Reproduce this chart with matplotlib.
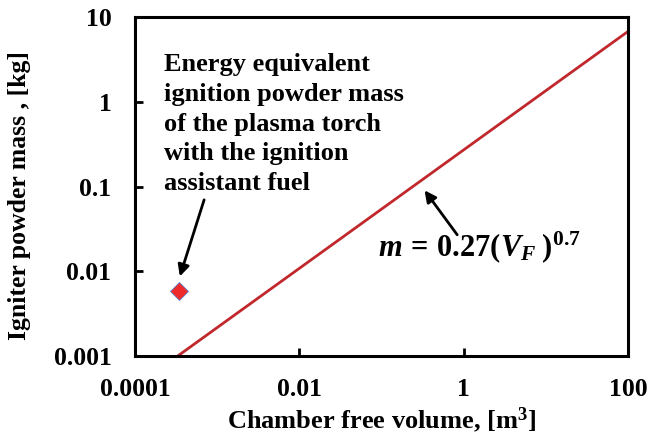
import numpy as np
import matplotlib
matplotlib.use('Agg')
import matplotlib.pyplot as plt
from matplotlib.ticker import FixedLocator, FixedFormatter, NullLocator

plt.rcParams['font.family'] = 'Liberation Serif'
plt.rcParams['font.weight'] = 'bold'
plt.rcParams['mathtext.fontset'] = 'custom'
plt.rcParams['mathtext.rm'] = 'Liberation Serif:bold'
plt.rcParams['mathtext.it'] = 'Liberation Serif:bold:italic'
plt.rcParams['mathtext.bf'] = 'Liberation Serif:bold'

# correlation line m = 0.27 V^0.7, end points
line_v = [3.3e-4, 100]
line_m = [0.001, 6.8]

# plasma torch equivalent point
torch_v = [3.4e-4]
torch_m = [0.0059]

x_ticks = [1e-4, 1e-2, 1, 100]
x_labels = ['0.0001', '0.01', '1', '100']
y_ticks = [0.001, 0.01, 0.1, 1, 10]
y_labels = ['0.001', '0.01', '0.1', '1', '10']

fig = plt.figure(figsize=(6.49, 4.38), dpi=100)
ax = fig.add_axes([0.208, 0.187, 0.760, 0.774])

ax.plot(line_v, line_m, color='#C0282D', lw=2.0)
ax.plot(torch_v, torch_m, marker='D', ms=9, color='#EE2A2A',
        markeredgecolor='#5B7FC7', markeredgewidth=0.6, ls='none')

ax.set_xscale('log')
ax.set_yscale('log')
ax.set_xlim(1e-4, 100)
ax.set_ylim(0.001, 10)
ax.xaxis.set_major_locator(FixedLocator(x_ticks))
ax.xaxis.set_major_formatter(FixedFormatter(x_labels))
ax.yaxis.set_major_locator(FixedLocator(y_ticks))
ax.yaxis.set_major_formatter(FixedFormatter(y_labels))
ax.xaxis.set_minor_locator(NullLocator())
ax.yaxis.set_minor_locator(NullLocator())
ax.tick_params(direction='in', length=6, width=2, labelsize=18.5)
ax.tick_params(axis='x', pad=16)
ax.tick_params(axis='y', pad=17)

for s in ax.spines.values():
    s.set_linewidth(2.2)

ax.set_xlabel('Chamber free volume, [m$^{3}$]', fontsize=19, fontweight='bold', labelpad=3)
ax.set_ylabel('Igniter powder mass , [kg]', fontsize=18.5, fontweight='bold')
ax.yaxis.set_label_coords(-0.21, 0.475)

ax.text(0.059, 0.893, 'Energy equivalent\nignition powder mass\nof the plasma torch\nwith the ignition\nassistant fuel',
        transform=ax.transAxes, fontsize=19, fontweight='bold', va='top', ha='left',
        linespacing=1.37)

ax.annotate('', xy=(3.43e-4, 0.0081), xytext=(7.1e-4, 0.075),
            arrowprops=dict(arrowstyle='-|>', color='black', lw=2, mutation_scale=17))
ax.annotate('', xy=(0.318, 0.096), xytext=(0.87, 0.0254),
            arrowprops=dict(arrowstyle='-|>', color='black', lw=2, mutation_scale=17))

ax.text(0.09, 0.0193, r'$m\,=\,0.27(V_F\;)^{0.7}$', fontsize=22, ha='left', va='center')

fig.savefig('out.png', dpi=100)
